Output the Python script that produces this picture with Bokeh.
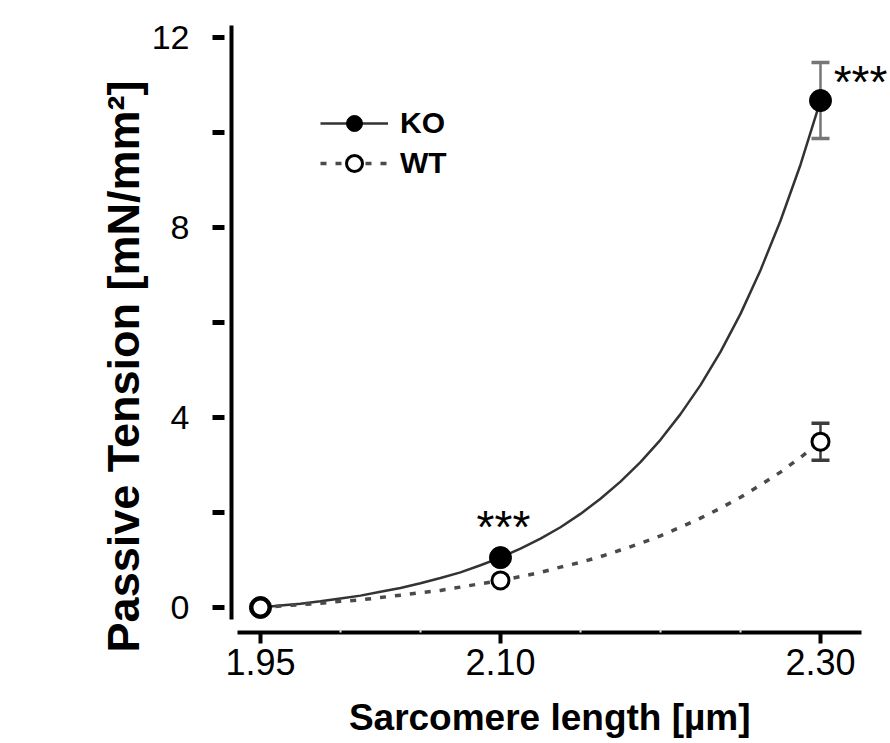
import math
from bokeh.plotting import figure
from bokeh.layouts import column
from bokeh.models import (Range1d, FixedTicker, ColumnDataSource, Whisker, TeeHead,
                          Legend, LegendItem)
from bokeh.core.properties import value
from bokeh.embed import file_html
from bokeh.resources import INLINE

# ---------------- data ----------------
sarcomere_length = [1.95, 2.10, 2.30]
ko_tension = [0.00, 1.05, 10.67]
ko_sem = [0.00, 0.00, 0.80]
wt_tension = [0.00, 0.57, 3.49]
wt_sem = [0.00, 0.00, 0.39]

# fitted curves
fit_x = [1.95, 1.9625, 1.975, 1.9875, 2.00, 2.0125, 2.025, 2.0375, 2.05, 2.0625,
         2.075, 2.0875, 2.10, 2.1125, 2.125, 2.1375, 2.15, 2.1625, 2.175, 2.1875,
         2.20, 2.2125, 2.225, 2.2375, 2.25, 2.2625, 2.275, 2.2875, 2.30]
ko_fit = [0.00, 0.04, 0.08, 0.13, 0.19, 0.25, 0.33, 0.41, 0.51, 0.62,
          0.74, 0.89, 1.05, 1.24, 1.45, 1.69, 1.97, 2.29, 2.65, 3.06,
          3.53, 4.07, 4.68, 5.38, 6.18, 7.10, 8.14, 9.32, 10.67]
wt_fit = [0.00, 0.03, 0.06, 0.09, 0.13, 0.16, 0.21, 0.26, 0.31, 0.36,
          0.43, 0.50, 0.57, 0.65, 0.74, 0.85, 0.95, 1.07, 1.21, 1.35,
          1.51, 1.69, 1.88, 2.09, 2.32, 2.58, 2.85, 3.16, 3.49]

sig_x = [2.10, 2.30]
sig_y = [1.05, 10.67]
sig_text = ["***", "***"]

x_ticks = [1.95, 2.10, 2.30]
x_tick_labels = ["1.95", "2.10", "2.30"]
x_minor_ticks = [2.00, 2.05, 2.15, 2.20, 2.25]
y_ticks = [0, 2, 4, 6, 8, 10, 12]
y_tick_labels = ["0", "", "4", "", "8", "", "12"]

x_title = "Sarcomere length [µm]"
y_title = "Passive Tension [mN/mm²]"
panel_tag = "(B)"

SANS = "Liberation Sans"
NBSP = "\u00a0"

# ---------------- main figure ----------------
p = figure(width=890, height=743, output_backend="svg", toolbar_location=None,
           x_range=Range1d(1.9319, 2.3425), y_range=Range1d(-0.526, 12.25),
           min_border_left=231, min_border_right=2, min_border_top=25,
           min_border_bottom=111)
p.outline_line_color = None
p.grid.visible = False
p.background_fill_color = None
p.border_fill_color = None

# x axis
xa = p.xaxis[0]
xa.ticker = FixedTicker(ticks=x_ticks, minor_ticks=x_minor_ticks)
xa.major_label_overrides = {t: s for t, s in zip(x_ticks, x_tick_labels)}
xa.bounds = (1.9356, 2.3256)
xa.axis_line_width = 4
xa.axis_line_color = "black"
xa.major_tick_line_width = 4
xa.major_tick_line_color = "black"
xa.major_tick_in = 0
xa.major_tick_out = 11
xa.minor_tick_in = 3
xa.minor_tick_out = 0
xa.minor_tick_line_color = "#e2e2e2"
xa.minor_tick_line_width = 2
xa.major_label_text_font = SANS
xa.major_label_text_font_size = "36px"
xa.major_label_text_color = "black"
xa.major_label_standoff = 5
xa.axis_label = x_title + NBSP * 2
xa.axis_label_text_font = SANS
xa.axis_label_text_font_size = "37px"
xa.axis_label_text_font_style = "bold"
xa.axis_label_text_color = "black"
xa.axis_label_standoff = 19

# y axis
ya = p.yaxis[0]
ya.ticker = FixedTicker(ticks=y_ticks, minor_ticks=[])
ya.major_label_overrides = {t: s for t, s in zip(y_ticks, y_tick_labels)}
ya.bounds = (-0.25, 12.25)
ya.axis_line_width = 4
ya.axis_line_color = "black"
ya.major_tick_line_width = 5
ya.major_tick_line_color = "black"
ya.major_tick_in = -7
ya.major_tick_out = 19
ya.minor_tick_line_color = None
ya.major_label_text_font = SANS
ya.major_label_text_font_size = "34px"
ya.major_label_text_color = "black"
ya.major_label_standoff = 23
ya.axis_label = y_title + NBSP * 6
ya.axis_label_text_font = SANS
ya.axis_label_text_font_size = "45px"
ya.axis_label_text_font_style = "bold"
ya.axis_label_text_color = "black"
ya.axis_label_standoff = 0

# ---------------- fitted curves ----------------
ko_line = p.line(fit_x, ko_fit, line_color="#333333", line_width=2.5)
wt_line = p.line(fit_x, wt_fit, line_color="#4a4a4a", line_width=3.5,
                 line_dash="6 9")

# ---------------- error bars ----------------
def err_source(xs, ms, ss):
    rows = [(x, m - s, m + s) for x, m, s in zip(xs, ms, ss) if s > 0]
    return ColumnDataSource(dict(x=[r[0] for r in rows],
                                 lower=[r[1] for r in rows],
                                 upper=[r[2] for r in rows]))

for ms, ss, col in ((ko_tension, ko_sem, "#767676"), (wt_tension, wt_sem, "#3c3c3c")):
    w = Whisker(base="x", lower="lower", upper="upper", dimension="height",
                source=err_source(sarcomere_length, ms, ss),
                line_color=col, line_width=2.5,
                upper_head=TeeHead(size=18, line_color=col, line_width=3.5),
                lower_head=TeeHead(size=18, line_color=col, line_width=3.5))
    p.add_layout(w)

# ---------------- markers ----------------
ko_pts = p.scatter(sarcomere_length, ko_tension, marker="circle", size=22,
                   fill_color="black", line_color="black", line_width=1)
wt_pts = p.scatter(sarcomere_length, wt_tension, marker="circle", size=17,
                   fill_color="white", line_color="black", line_width=3)

# ---------------- significance stars ----------------
p.text(x=sig_x, y=sig_y, text=sig_text, x_offset=[3, 40], y_offset=[-31, -19],
       text_align="center", text_baseline="alphabetic",
       text_font=value(SANS), text_font_size="46px", text_color="black")

# ---------------- legend ----------------
legend = Legend(items=[LegendItem(label="KO", renderers=[ko_line, ko_pts]),
                       LegendItem(label="WT", renderers=[wt_line, wt_pts])],
                location=(89, 449), orientation="vertical",
                glyph_width=68, glyph_height=40, label_height=40,
                spacing=-3, padding=0, margin=0, label_standoff=12,
                border_line_alpha=0, background_fill_alpha=0,
                label_text_font=SANS, label_text_font_size="30px",
                label_text_font_style="bold", label_text_color="black")
p.add_layout(legend)

# ---------------- panel tag "(B)": small figure laid over the empty top-left corner ----------------
tag = figure(width=100, height=60, output_backend="svg", toolbar_location=None,
             x_range=Range1d(0, 100), y_range=Range1d(60, 0),
             x_axis_type=None, y_axis_type=None, min_border=0)
tag.outline_line_color = None
tag.grid.visible = False
tag.background_fill_color = None
tag.border_fill_color = None
tag.text(x=[15], y=[34], text=[panel_tag], text_align="left", text_baseline="middle",
         text_font=value(SANS), text_font_size="42px", text_color="black")
tag.margin = (-743, 0, 0, 0)

layout = column(p, tag, spacing=0)
open("out.html", "w").write(file_html(layout, INLINE))
